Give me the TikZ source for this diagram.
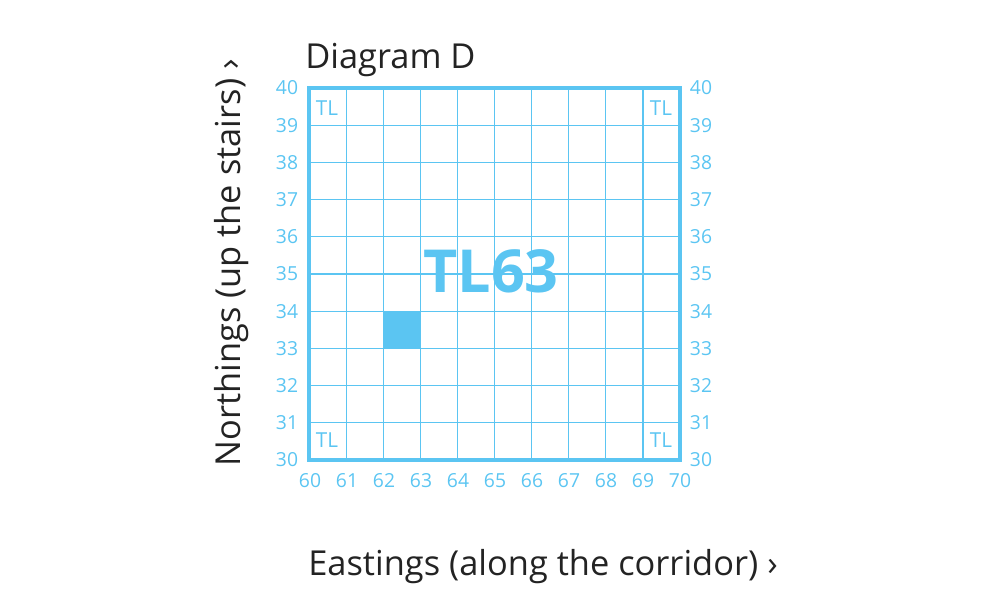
\documentclass[tikz,border=0pt]{standalone}
\usepackage{fontspec}
\setmainfont{Open Sans}
\usepackage{tikz}
\definecolor{gridblue}{RGB}{91,197,242}
\definecolor{inkgrey}{RGB}{35,35,35}
\tikzset{
  numlabel/.style={text=gridblue, font=\fontsize{14.5}{15}\selectfont, inner sep=0pt},
  cornerlabel/.style={text=gridblue, font=\fontsize{15.5}{16}\selectfont, inner sep=0pt},
  axislabel/.style={text=inkgrey, font=\fontsize{25.8}{28}\selectfont, inner sep=0pt},
}
\begin{document}
\begin{tikzpicture}[x=0.75pt, y=-0.75pt]
        \useasboundingbox (0,0) rectangle (1000,600);

        % filled square 62-63 / 33-34
        \fill[gridblue] (383.2,311.6) rectangle (420.3,348.7);

        % grid
        \foreach \i in {1,...,9} {
          \draw[gridblue, line width=0.9pt] (309+\i*37.1,88) -- (309+\i*37.1,460);
          \draw[gridblue, line width=0.9pt] (309,88+\i*37.2) -- (680,88+\i*37.2);
        }
        \draw[gridblue, line width=2.4pt] (309,88) rectangle (680,460);

        % eastings and northings
        \foreach \i in {0,...,10} {
          \pgfmathtruncatemacro{\east}{60+\i}
          \pgfmathtruncatemacro{\north}{40-\i}
          \node[numlabel] (e\east) at (310+\i*37,481) {\east};
          \node[numlabel] (wl\north) at (287,88+\i*37.2) {\north};
          \node[numlabel] (wr\north) at (701,88+\i*37.2) {\north};
        }

        \node[cornerlabel] (tl1) at (327,108) {TL};
        \node[cornerlabel] (tl2) at (661,108) {TL};
        \node[cornerlabel] (tl3) at (327,440) {TL};
        \node[cornerlabel] (tl4) at (661,440) {TL};

        \node[text=gridblue, font=\fontsize{44.5}{48}\selectfont\bfseries, inner sep=0pt] (square) at (491,271) {TL63};

        \node[axislabel, anchor=base west] (title) at (305,68) {Diagram D};
        \node[axislabel] (northings) at (232,263) [rotate=90] {Northings (up the stairs) ›};
        \node[axislabel] (eastings) at (543,567) {Eastings (along the corridor) ›};
\end{tikzpicture}
\end{document}
